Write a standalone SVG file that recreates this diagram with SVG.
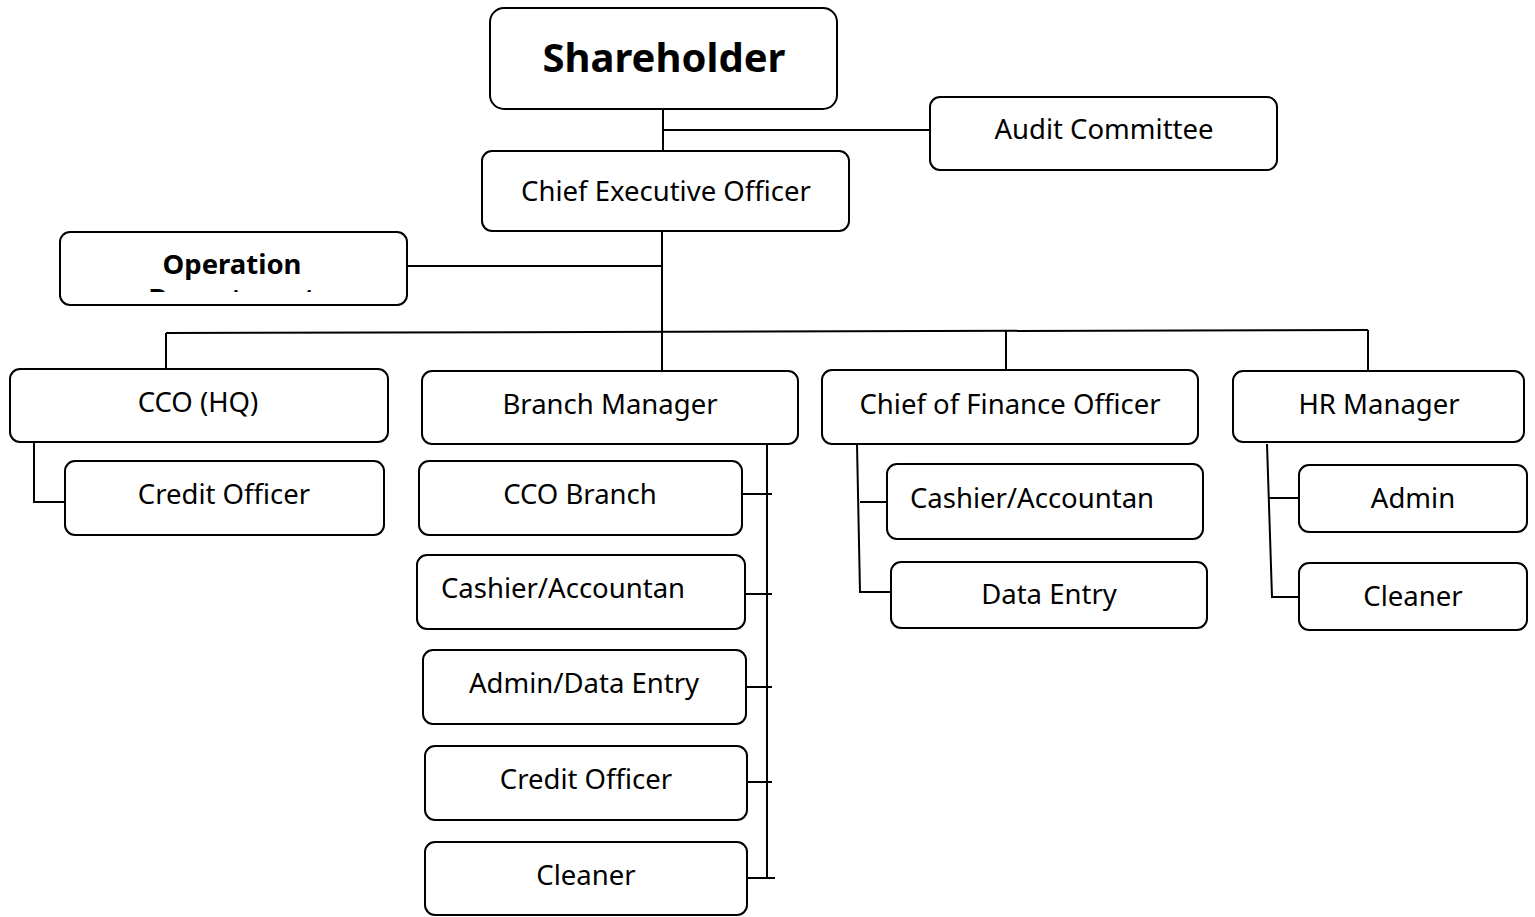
<svg xmlns="http://www.w3.org/2000/svg" width="1535" height="917" viewBox="0 0 1535 917">
<defs>
<style>
.box{fill:#fff;stroke:#000;stroke-width:2}
.t{font-family:"Noto Sans","Open Sans","DejaVu Sans",sans-serif;font-size:27.5px;fill:#000;text-anchor:middle}
.b{font-weight:bold}
.c{fill:none;stroke:#000;stroke-width:2}
</style>
<clipPath id="opclip"><rect x="60" y="232" width="347" height="60"/></clipPath>
</defs>
<rect width="1535" height="917" fill="#fff"/>
<g id="connectors" class="c">
<path d="M663 109V151M663 130H930"/>
<path d="M662 231V371M407 266H662"/>
<path d="M166 333L1368 330"/>
<path d="M166 333V369M1006 331V370M1368 330V370"/>
<path d="M34 442V502H68"/>
<path d="M767 444V878M742 494H772M745 594H772M746 687H772M747 782H772M747 878H775"/>
<path d="M857 444L860 592H891M860 502H887"/>
<path d="M1267 444L1272 597H1299M1269 498H1299"/>
</g>
<g id="shareholder"><rect class="box" x="490" y="8" width="347" height="101" rx="14"/><text class="t b" x="664" y="72" style="font-size:40px">Shareholder</text></g>
<g id="audit"><rect class="box" x="930" y="97" width="347" height="73" rx="10"/><text class="t" x="1104" y="139">Audit Committee</text></g>
<g id="ceo"><rect class="box" x="482" y="151" width="367" height="80" rx="10"/><text class="t" x="666" y="201">Chief Executive Officer</text></g>
<g id="operation"><rect class="box" x="60" y="232" width="347" height="73" rx="10"/><text class="t b" x="232" y="274">Operation</text><text class="t b" x="232" y="308" clip-path="url(#opclip)">Department</text></g>
<g id="ccohq"><rect class="box" x="10" y="369" width="378" height="73" rx="10"/><text class="t" x="198" y="412">CCO (HQ)</text></g>
<g id="credit1"><rect class="box" x="65" y="461" width="319" height="74" rx="10"/><text class="t" x="224" y="504">Credit Officer</text></g>
<g id="branch"><rect class="box" x="422" y="371" width="376" height="73" rx="10"/><text class="t" x="610" y="414">Branch Manager</text></g>
<g id="ccobranch"><rect class="box" x="419" y="461" width="323" height="74" rx="10"/><text class="t" x="580" y="504">CCO Branch</text></g>
<g id="cashier1"><rect class="box" x="417" y="555" width="328" height="74" rx="10"/><text class="t" x="563" y="598">Cashier/Accountan</text></g>
<g id="admindata"><rect class="box" x="423" y="650" width="323" height="74" rx="10"/><text class="t" x="584" y="693">Admin/Data Entry</text></g>
<g id="credit2"><rect class="box" x="425" y="746" width="322" height="74" rx="10"/><text class="t" x="586" y="789">Credit Officer</text></g>
<g id="cleaner1"><rect class="box" x="425" y="842" width="322" height="73" rx="10"/><text class="t" x="586" y="885">Cleaner</text></g>
<g id="cfo"><rect class="box" x="822" y="370" width="376" height="74" rx="10"/><text class="t" x="1010" y="414">Chief of Finance Officer</text></g>
<g id="hr"><rect class="box" x="1233" y="371" width="291" height="71" rx="10"/><text class="t" x="1379" y="414">HR Manager</text></g>
<g id="cashier2"><rect class="box" x="887" y="464" width="316" height="75" rx="10"/><text class="t" x="1032" y="508">Cashier/Accountan</text></g>
<g id="dataentry"><rect class="box" x="891" y="562" width="316" height="66" rx="10"/><text class="t" x="1049" y="604">Data Entry</text></g>
<g id="admin"><rect class="box" x="1299" y="465" width="228" height="67" rx="10"/><text class="t" x="1413" y="508">Admin</text></g>
<g id="cleaner2"><rect class="box" x="1299" y="563" width="228" height="67" rx="10"/><text class="t" x="1413" y="606">Cleaner</text></g>
</svg>
